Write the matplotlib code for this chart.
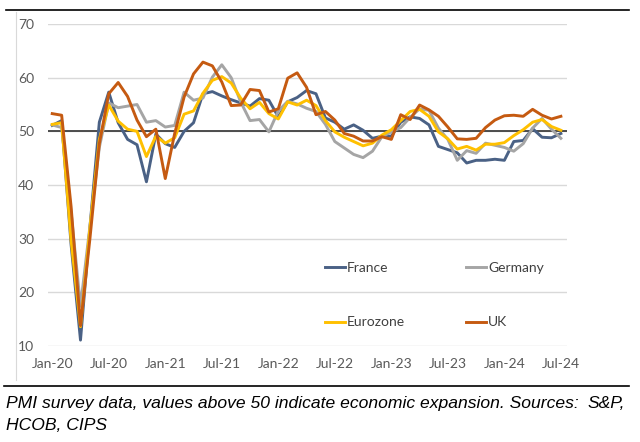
import numpy as np
import matplotlib
matplotlib.use("Agg")
import matplotlib.pyplot as plt
from matplotlib.lines import Line2D

# monthly composite PMI, Jan-20 .. Jul-24
france = [51.1, 52.0, 28.9, 11.1, 32.1, 51.7, 57.3, 51.6, 48.5, 47.5, 40.6, 49.5,
          47.7, 47.0, 50.0, 51.6, 57.0, 57.4, 56.6, 55.9, 55.3, 54.7, 56.1, 55.8,
          52.7, 55.5, 56.3, 57.6, 57.0, 52.5, 51.7, 50.4, 51.2, 50.2, 48.7, 49.1,
          49.1, 51.7, 52.7, 52.4, 51.2, 47.2, 46.6, 46.0, 44.1, 44.6, 44.6, 44.8,
          44.6, 48.1, 48.3, 50.5, 48.9, 48.8, 49.6]
germany = [51.2, 50.7, 35.0, 17.4, 32.3, 47.0, 55.3, 54.4, 54.7, 55.0, 51.7, 52.0,
           50.8, 51.1, 57.3, 55.8, 56.2, 60.1, 62.4, 60.0, 55.5, 52.0, 52.2, 49.9,
           53.8, 55.6, 55.1, 54.3, 53.7, 51.3, 48.1, 46.9, 45.7, 45.1, 46.3, 49.0,
           49.9, 50.7, 52.6, 54.2, 53.9, 50.6, 48.5, 44.6, 46.4, 45.9, 47.8, 47.4,
           47.0, 46.3, 47.7, 50.6, 52.4, 50.4, 48.7]
eurozone = [51.3, 51.6, 29.7, 13.6, 31.9, 48.5, 54.9, 51.9, 50.4, 50.0, 45.3, 49.1,
            47.8, 48.8, 53.2, 53.8, 57.1, 59.5, 60.2, 59.0, 56.2, 54.2, 55.4, 53.3,
            52.3, 55.5, 54.9, 55.8, 54.8, 52.0, 49.9, 48.9, 48.1, 47.3, 47.8, 49.3,
            50.3, 52.0, 53.7, 54.1, 52.8, 49.9, 48.6, 46.7, 47.2, 46.5, 47.6, 47.6,
            47.9, 49.2, 50.3, 51.7, 52.2, 50.9, 50.2]
uk = [53.3, 53.0, 36.0, 13.8, 30.0, 47.7, 57.0, 59.1, 56.5, 52.1, 49.0, 50.4,
      41.2, 49.6, 56.4, 60.7, 62.9, 62.2, 59.2, 54.8, 54.9, 57.8, 57.6, 53.6,
      54.2, 59.9, 60.9, 58.2, 53.1, 53.7, 52.1, 49.6, 49.1, 48.2, 48.2, 49.0,
      48.5, 53.1, 52.2, 54.9, 54.0, 52.8, 50.8, 48.6, 48.5, 48.7, 50.7, 52.1,
      52.9, 53.0, 52.8, 54.1, 53.0, 52.3, 52.8]

tick_labels = ["Jan-20", "Jul-20", "Jan-21", "Jul-21", "Jan-22",
               "Jul-22", "Jan-23", "Jul-23", "Jan-24", "Jul-24"]

SERIES = {
    "France":   (france,   "#4A6185"),
    "Germany":  (germany,  "#A5A5A5"),
    "Eurozone": (eurozone, "#FFC000"),
    "UK":       (uk,       "#C55A11"),
}

plt.rcParams["font.family"] = ["Lato", "DejaVu Sans"]

fig = plt.figure(figsize=(6.4, 4.42), dpi=100)
ax = fig.add_axes([48 / 640, 1 - 346 / 442, 519 / 640, 322 / 442])

x = np.arange(len(france))
ax.set_axisbelow(True)
ax.yaxis.grid(True, color="#D9D9D9", lw=1.0)
ax.axhline(50, color="#404040", lw=1.3, zorder=1.5)

handles = {}
for name, (vals, col) in SERIES.items():
    ax.plot(x, vals, color=col, lw=2.1, solid_joinstyle="round", zorder=2)
    handles[name] = Line2D([], [], color=col, lw=2.1, label=name)

ax.set_xlim(-0.45, 54.65)
ax.set_ylim(10, 70)
ax.set_yticks(np.arange(10, 71, 10))
ax.set_xticks(np.arange(0, 55, 6))
ax.set_xticklabels(tick_labels)
ax.tick_params(length=0, labelsize=10, labelcolor="#595959")
ax.tick_params(axis="y", pad=10)
ax.tick_params(axis="x", pad=9)
for s in ax.spines.values():
    s.set_visible(False)

# legend fills column-wise, so order gives rows France/Germany, Eurozone/UK
order = ["France", "Eurozone", "Germany", "UK"]
fig.legend(handles=[handles[k] for k in order], loc="upper left",
           bbox_to_anchor=(325 / 640, 1 - 262 / 442), ncol=2,
           frameon=False, fontsize=10, handlelength=1.45, handletextpad=0.15,
           columnspacing=4.35, labelspacing=3.05, borderpad=0, borderaxespad=0,
           labelcolor="#404040")

# frame lines
fig.add_artist(Line2D([6 / 640, 629 / 640], [1 - 10 / 442, 1 - 10 / 442],
                      color="black", lw=1.2))
fig.add_artist(Line2D([16 / 640, 16 / 640], [1 - 12 / 442, 1 - 380 / 442],
                      color="#D9D9D9", lw=0.8))
fig.add_artist(Line2D([4 / 640, 629 / 640], [1 - 386 / 442, 1 - 386 / 442],
                      color="black", lw=1.2))

cap = dict(family=["Liberation Sans", "DejaVu Sans"], style="italic",
           fontsize=12.6, color="black", va="baseline")
fig.text(6 / 640, 1 - 408 / 442,
         "PMI survey data, values above 50 indicate economic expansion. Sources:", **cap)
fig.text(625 / 640, 1 - 408 / 442, "S&P,", ha="right", **cap)
fig.text(6 / 640, 1 - 430 / 442, "HCOB, CIPS", **cap)

fig.savefig("out.png", dpi=100)
